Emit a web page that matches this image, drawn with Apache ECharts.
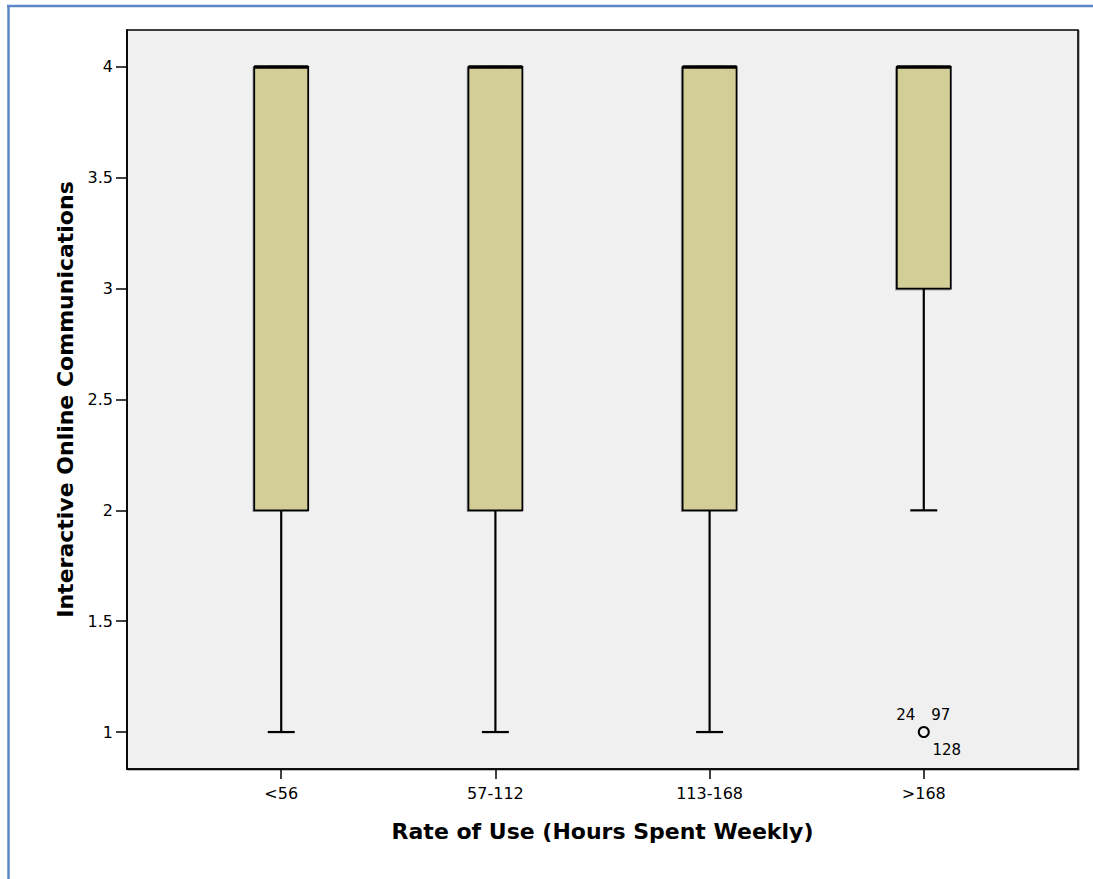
<!DOCTYPE html>
<html>
<head>
<meta charset="utf-8">
<title>Interactive Online Communications by Rate of Use</title>
<script src="https://cdn.jsdelivr.net/npm/echarts@6/dist/echarts.min.js"></script>
<style>
  html, body { margin: 0; padding: 0; background: #ffffff; }
  #chart { width: 1093px; height: 879px; }
</style>
</head>
<body>
<div id="chart"></div>
<script>
// Box-plot summary per usage group
const categories   = ['<56', '57-112', '113-168', '>168'];
const lowWhisker   = [1, 1, 1, 2];
const lowerQuart   = [2, 2, 2, 3];
const medians      = [4, 4, 4, 4];
const upperQuart   = [4, 4, 4, 4];
const highWhisker  = [4, 4, 4, 4];

// Outliers: group index, value, case ids
const outlierGroup = [3];
const outlierValue = [1];
const outlierIds   = [['24', '97', '128']];

// Y axis tick values
const yTicks = [1, 1.5, 2, 2.5, 3, 3.5, 4];

const FONT = '"DejaVu Sans", "Liberation Sans", Arial, sans-serif';
const BOX_FILL = '#d3ce98';

const boxData = categories.map((c, i) => [i + 1, lowWhisker[i], lowerQuart[i], medians[i], upperQuart[i], highWhisker[i]]);
const outData = outlierGroup.map((g, i) => [g + 1, outlierValue[i], i]);

const chart = echarts.init(document.getElementById('chart'), null, { renderer: 'svg' });

function renderBox(params, api) {
  const x = api.value(0);
  const unit = api.size([1, 0])[0];
  const bw = unit * 0.252;
  const cw = bw / 2;
  const pLow = api.coord([x, api.value(1)]);
  const pQ1 = api.coord([x, api.value(2)]);
  const pMed = api.coord([x, api.value(3)]);
  const pQ3 = api.coord([x, api.value(4)]);
  const pHigh = api.coord([x, api.value(5)]);
  const cx = pMed[0];
  const lineStyle = { stroke: '#000', lineWidth: 2.2 };
  return {
    type: 'group',
    children: [
      { type: 'line', shape: { x1: cx, y1: pLow[1], x2: cx, y2: pQ1[1] }, style: lineStyle },
      { type: 'line', shape: { x1: cx, y1: pQ3[1], x2: cx, y2: pHigh[1] }, style: lineStyle },
      { type: 'line', shape: { x1: cx - cw / 2, y1: pLow[1], x2: cx + cw / 2, y2: pLow[1] }, style: lineStyle },
      { type: 'line', shape: { x1: cx - cw / 2, y1: pHigh[1], x2: cx + cw / 2, y2: pHigh[1] }, style: lineStyle },
      // soft edge under the box
      { type: 'rect', shape: { x: cx - bw / 2 - 1, y: pQ3[1] + 1, width: bw, height: pQ1[1] - pQ3[1] },
        style: { fill: 'none', stroke: 'rgba(0,0,0,0.3)', lineWidth: 1.5 } },
      { type: 'rect', shape: { x: cx - bw / 2, y: pQ3[1], width: bw, height: pQ1[1] - pQ3[1] },
        style: { fill: BOX_FILL, stroke: '#000', lineWidth: 1.8 } },
      { type: 'line', shape: { x1: cx - bw / 2, y1: pMed[1], x2: cx + bw / 2, y2: pMed[1] },
        style: { stroke: '#000', lineWidth: 3.5 } }
    ]
  };
}

function renderOutlier(params, api) {
  const p = api.coord([api.value(0), api.value(1)]);
  const ids = outlierIds[api.value(2)];
  const txt = (t, dx, dy) => ({
    type: 'text', x: p[0] + dx, y: p[1] + dy,
    style: { text: t, fill: '#000', font: '15px ' + FONT, align: 'center', verticalAlign: 'middle' }
  });
  return {
    type: 'group',
    children: [
      { type: 'circle', shape: { cx: p[0], cy: p[1], r: 5 }, style: { fill: 'none', stroke: '#000', lineWidth: 2 } },
      txt(ids[0], -18, -17),
      txt(ids[1], 17, -17),
      txt(ids[2], 23, 18)
    ]
  };
}

chart.setOption({
  animation: false,
  backgroundColor: '#ffffff',
  textStyle: { fontFamily: FONT },
  graphic: [
    { type: 'line', shape: { x1: 7, y1: 6, x2: 1093, y2: 6 }, style: { stroke: '#5b87c7', lineWidth: 2.5 }, z: 100 },
    { type: 'line', shape: { x1: 8.5, y1: 5, x2: 8.5, y2: 879 }, style: { stroke: '#5b87c7', lineWidth: 2.5 }, z: 100 }
  ],
  grid: {
    left: 127, right: 15, top: 30, bottom: 110,
    show: true, backgroundColor: '#f0f0f0', borderColor: '#000', borderWidth: 1.6,
    shadowColor: 'rgba(0,0,0,0.35)', shadowBlur: 1, shadowOffsetX: 1, shadowOffsetY: 1
  },
  xAxis: {
    type: 'value', min: 0.28, max: 4.72,
    name: 'Rate of Use (Hours Spent Weekly)',
    nameLocation: 'middle', nameGap: 51,
    nameTextStyle: { fontSize: 22, fontWeight: 'bold', color: '#000', fontFamily: FONT },
    axisLine: { show: true, lineStyle: { color: '#000', width: 1.6 } },
    axisTick: { show: true, length: 10, lineStyle: { color: '#000', width: 1.5 }, customValues: [1, 2, 3, 4] },
    axisLabel: {
      show: true, margin: 16, fontSize: 16, color: '#000', fontFamily: FONT,
      customValues: [1, 2, 3, 4],
      formatter: v => categories[Math.round(v) - 1]
    },
    splitLine: { show: false }
  },
  yAxis: {
    type: 'value', min: 5 / 6, max: 25 / 6,
    name: 'Interactive Online Communications',
    nameLocation: 'middle', nameGap: 50,
    nameTextStyle: { fontSize: 22, fontWeight: 'bold', color: '#000', fontFamily: FONT },
    axisLine: { show: true, lineStyle: { color: '#000', width: 1.6 } },
    axisTick: { show: true, length: 11, lineStyle: { color: '#000', width: 1.5 }, customValues: yTicks },
    axisLabel: {
      show: true, margin: 14, fontSize: 16, color: '#000', fontFamily: FONT,
      customValues: yTicks,
      formatter: v => String(Math.round(v * 10) / 10)
    },
    splitLine: { show: false }
  },
  series: [
    { type: 'custom', renderItem: renderBox, data: boxData, encode: { x: 0, y: [1, 2, 3, 4, 5] }, clip: false },
    { type: 'custom', renderItem: renderOutlier, data: outData, encode: { x: 0, y: 1 }, clip: false }
  ]
});
</script>
</body>
</html>
